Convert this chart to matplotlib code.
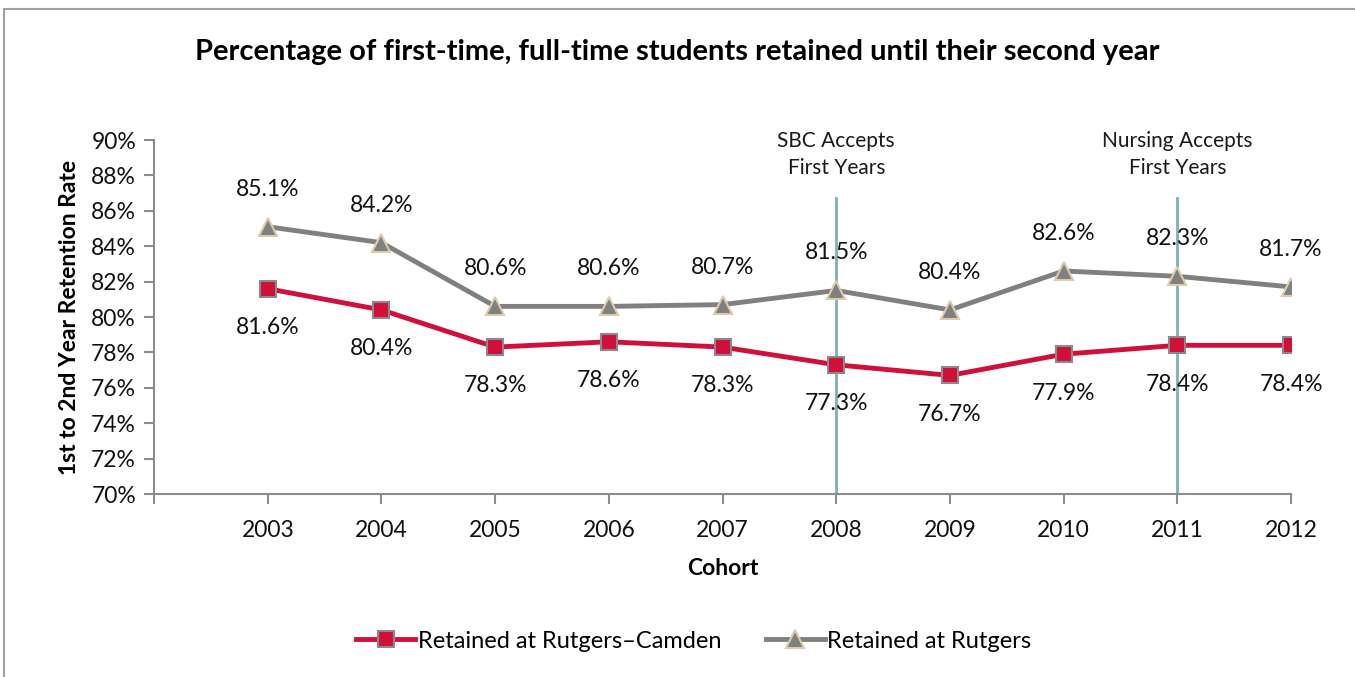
import matplotlib.pyplot as plt
from matplotlib.patches import Rectangle
from matplotlib.lines import Line2D

plt.rcParams['font.family'] = ['Lato', 'DejaVu Sans']

# Data
cohorts = [2003, 2004, 2005, 2006, 2007, 2008, 2009, 2010, 2011, 2012]
camden = [81.6, 80.4, 78.3, 78.6, 78.3, 77.3, 76.7, 77.9, 78.4, 78.4]
rutgers = [85.1, 84.2, 80.6, 80.6, 80.7, 81.5, 80.4, 82.6, 82.3, 81.7]
events = [(2008, "SBC Accepts\nFirst Years"), (2011, "Nursing Accepts\nFirst Years")]

red = "#d0103a"
gray = "#808080"
axis_gray = "#8c8c8c"
fs = 16.5

fig = plt.figure(figsize=(13.55, 6.77), dpi=100)
ax = fig.add_axes([0.1137, 0.2703, 0.8391, 0.5229])

# outer chart border
fig.patches.append(Rectangle((0.003, -0.05), 1.2, 1.037, transform=fig.transFigure,
                             fill=False, edgecolor="#a0a0a0", linewidth=1.5))

# event lines
for yr, txt in events:
    ax.plot([yr, yr], [70, 86.7], color="#7fb0b6", linewidth=2, zorder=1)
    ax.text(yr, 89.2, txt, ha="center", va="center", fontsize=15,
            linespacing=1.45, color="#1a1a1a")

ax.plot(cohorts, rutgers, color=gray, linewidth=3.5, marker="^", markersize=13,
        markerfacecolor=gray, markeredgecolor="#dccca8", markeredgewidth=1.5,
        zorder=3, label="Retained at Rutgers")
ax.plot(cohorts, camden, color=red, linewidth=3.5, marker="s", markersize=12,
        markerfacecolor=red, markeredgecolor="#8a8a8a", markeredgewidth=1.5,
        zorder=4, label="Retained at Rutgers\u2013Camden")

for x, v in zip(cohorts, rutgers):
    ax.annotate(f"{v:.1f}%", (x, v), xytext=(0, 27), textcoords="offset points",
                ha="center", va="center", fontsize=fs, color="#111111")
for x, v in zip(cohorts, camden):
    ax.annotate(f"{v:.1f}%", (x, v), xytext=(0, -28), textcoords="offset points",
                ha="center", va="center", fontsize=fs, color="#111111")

ax.set_xlim(2002, 2012)
ax.set_ylim(70, 90)
ax.set_yticks(range(70, 91, 2))
ax.set_yticklabels([f"{t}%" for t in range(70, 91, 2)])
ax.set_xticks(range(2002, 2013))
ax.set_xticklabels([""] + [str(c) for c in cohorts])

for s in ["top", "right"]:
    ax.spines[s].set_visible(False)
for s in ["left", "bottom"]:
    ax.spines[s].set_color(axis_gray)
    ax.spines[s].set_linewidth(1.5)
ax.tick_params(axis="both", colors=axis_gray, width=1.5, length=7, labelsize=fs,
               labelcolor="#111111")
ax.tick_params(axis="x", pad=12)
ax.tick_params(axis="y", pad=6)

ax.set_xlabel("Cohort", fontsize=fs, fontweight="bold", labelpad=12)
ax.set_ylabel("1st to 2nd Year Retention Rate", fontsize=fs, fontweight="bold", labelpad=8)

fig.text(0.5, 0.923, "Percentage of first-time, full-time students retained until their second year",
         ha="center", va="center", fontsize=21, fontweight="bold")

handles = [Line2D([], [], color=red, linewidth=3.5, marker="s", markersize=12,
                  markerfacecolor=red, markeredgecolor="#8a8a8a", markeredgewidth=1.5),
           Line2D([], [], color=gray, linewidth=3.5, marker="^", markersize=13,
                  markerfacecolor=gray, markeredgecolor="#dccca8", markeredgewidth=1.5)]
fig.legend(handles, ["Retained at Rutgers\u2013Camden", "Retained at Rutgers"],
           loc="center", bbox_to_anchor=(0.512, 0.053), ncol=2, frameon=False,
           fontsize=17, handlelength=2.5, handletextpad=0.1, columnspacing=1.9)

fig.savefig("out.png", dpi=100)
